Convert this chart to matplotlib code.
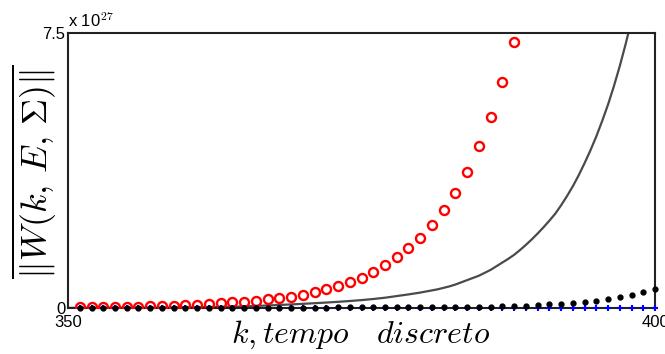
import numpy as np
import matplotlib.pyplot as plt

plt.rcParams['mathtext.fontset'] = 'cm'
plt.rcParams['font.family'] = ['Liberation Sans', 'DejaVu Sans']

# values in units of 1e27
k = np.arange(351, 401)

red_k = np.arange(351, 389)
red_vals = [0.018, 0.021, 0.025, 0.029, 0.034, 0.040, 0.047, 0.055, 0.064, 0.075,
            0.09, 0.11, 0.13, 0.15, 0.17, 0.20, 0.24, 0.27, 0.31, 0.36,
            0.44, 0.51, 0.60, 0.71, 0.83, 0.98, 1.16, 1.39, 1.63, 1.92,
            2.27, 2.67, 3.14, 3.72, 4.41, 5.20, 6.17, 7.24]

gray_k = [350, 351, 352, 353, 354, 355, 356, 357, 358, 359,
          360, 361, 362, 363, 364, 365, 366, 367, 368, 369,
          370, 371, 372, 373, 374, 375, 376, 377, 378, 379,
          380, 380.5, 381, 381.5, 382, 382.5, 383, 383.5, 384, 384.5,
          385, 385.5, 386, 386.5, 387, 387.5, 388, 388.5, 389, 389.5,
          390, 390.5, 391, 391.5, 392, 392.5, 393, 393.5, 394, 394.5,
          395, 395.5, 396, 396.5, 397, 397.5, 398]
gray_vals = [0.003, 0.003, 0.004, 0.005, 0.006, 0.007, 0.008, 0.010, 0.012, 0.014,
             0.017, 0.020, 0.025, 0.030, 0.035, 0.042, 0.055, 0.068, 0.082, 0.097,
             0.113, 0.130, 0.148, 0.168, 0.190, 0.215, 0.245, 0.280, 0.325, 0.370,
             0.42, 0.45, 0.48, 0.51, 0.55, 0.59, 0.64, 0.70, 0.76, 0.82,
             0.88, 0.96, 1.04, 1.14, 1.24, 1.34, 1.45, 1.58, 1.72, 1.87,
             2.03, 2.20, 2.38, 2.57, 2.80, 3.05, 3.32, 3.62, 3.95, 4.30,
             4.68, 5.10, 5.55, 6.05, 6.60, 7.20, 7.85]

black_vals = [0.002, 0.002, 0.002, 0.003, 0.003, 0.003, 0.004, 0.004, 0.005, 0.005,
              0.006, 0.006, 0.007, 0.007, 0.008, 0.008, 0.009, 0.009, 0.010, 0.011,
              0.012, 0.013, 0.014, 0.015, 0.016, 0.017, 0.018, 0.019, 0.020, 0.021,
              0.022, 0.024, 0.026, 0.028, 0.030, 0.035, 0.045, 0.055, 0.060, 0.080,
              0.10, 0.12, 0.14, 0.17, 0.20, 0.24, 0.29, 0.36, 0.44, 0.53]

blue_vals = [0.0] * len(k)

fig = plt.figure(figsize=(6.65, 3.54), dpi=100)
ax = fig.add_axes([0.1023, 0.130, 0.8827, 0.777])

ax.plot(red_k, red_vals, 'o', mfc='none', mec='red', mew=1.7, ms=6.5, zorder=3)
ax.plot(gray_k, gray_vals, '-', color='#4a4a4a', lw=1.6, zorder=2)
ax.plot(k, blue_vals, '+', color='blue', ms=5, mew=1.5, zorder=3, clip_on=False)
ax.plot(k, black_vals, '.', color='black', ms=7, zorder=4, clip_on=False)

ax.set_xlim(350, 400)
ax.set_ylim(0, 7.5)
ax.set_xticks([350, 400])
ax.set_yticks([0, 7.5])
ax.set_yticklabels(['0', '7.5'])
ax.tick_params(length=0, labelsize=12)
ax.tick_params(axis='x', pad=5)
ax.tick_params(axis='y', pad=2)
for s in ax.spines.values():
    s.set_linewidth(1.5)
    s.set_color('#222222')

ax.text(0.0, 1.012, 'x 10$^{27}$', transform=ax.transAxes, fontsize=12,
        ha='left', va='bottom')

ax.set_xlabel(r'$k, tempo \quad discreto$', fontsize=23)
ax.xaxis.set_label_coords(0.4991, -0.098)
ax.xaxis.label.set_verticalalignment('center')
ax.set_ylabel(r'$\overline{\|W(k,\,E,\,\Sigma)\|}$', fontsize=26)
ax.yaxis.set_label_coords(-0.057, 0.497)
ax.yaxis.label.set_verticalalignment('center')

fig.savefig('out.png', dpi=100)
